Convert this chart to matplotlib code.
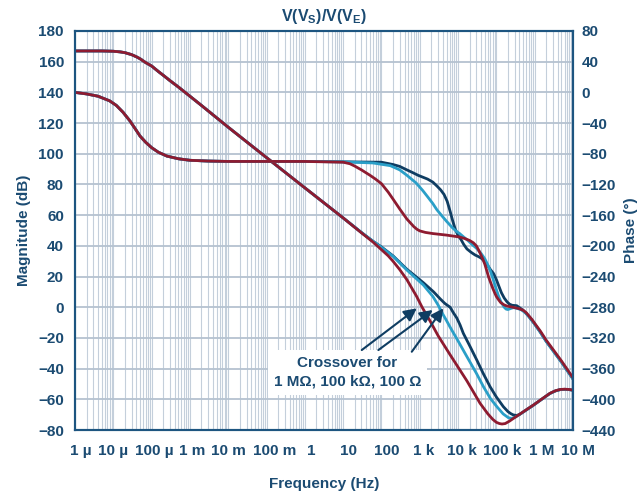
import numpy as np
import matplotlib
matplotlib.use("Agg")
import matplotlib.pyplot as plt
from matplotlib.ticker import LogLocator, NullFormatter
from matplotlib.transforms import ScaledTranslation

plt.rcParams['font.family'] = ['Liberation Sans', 'DejaVu Sans']
plt.rcParams['font.weight'] = 'bold'
plt.rcParams['mathtext.fontset'] = 'custom'
plt.rcParams['mathtext.rm'] = 'Liberation Sans:bold'
plt.rcParams['mathtext.it'] = 'Liberation Sans:bold'
plt.rcParams['mathtext.bf'] = 'Liberation Sans:bold'

azul = '#1b4b72'
marco = '#1d5580'
rojo = '#8e1b30'
marino = '#0f3d62'
cian = '#2a9fc8'
rejilla = '#c4cfdb'

# parte comun en baja frecuencia
f_mag_bajo = [1e-6, 5e-6, 1e-5, 1.5e-5, 2e-5, 3e-5, 4e-5, 5e-5, 7e-5, 1e-4, 1.5e-4, 2e-4,
              3e-4, 5e-4, 1e-3, 2e-3, 1e-2, 0.1, 1, 10]
mag_bajo = [167.0, 167.0, 166.8, 166.4, 165.9, 164.6, 163.2, 161.9, 159.4, 157.2, 153.6, 151.2,
            147.7, 143.5, 137.5, 131.5, 117.3, 97.5, 77.8, 58.2]

f_fase_bajo = [1e-6, 2e-6, 4e-6, 8e-6, 1.2e-5, 1.8e-5, 2.7e-5, 3.8e-5, 5e-5, 7e-5, 1e-4,
               1.5e-4, 2.5e-4, 5e-4, 1e-3, 3e-3, 1e-2, 1]
fase_bajo = [0, -2, -5, -11, -17, -26, -37, -48, -57, -65, -72, -78, -83, -86.5, -88.5,
             -89.5, -90, -90]

# magnitud, cada curva desde 30 Hz
f_mag_rojo = [30, 60, 100, 150, 200, 300, 460, 830, 1.15e3, 1.86e3, 3e3, 6.2e3, 1.7e4, 3.75e4,
              6e4, 8e4, 1e5, 1.2e5, 1.4e5, 1.7e5, 2.2e5, 2.8e5, 5e5, 9.3e5, 1.6e6, 2.5e6,
              3.5e6, 4.6e6, 6e6, 8e6, 1e7]
mag_rojo = [48.5, 42.5, 37.5, 33.5, 30.0, 24.5, 18.0, 7.0, 0.0, -9.0, -18.5, -31.0, -48.0, -62.6,
            -69.5, -73.0, -75.0, -75.8, -76.1, -75.8, -74.2, -72.4, -68.2, -63.7, -59.5, -56.1,
            -54.4, -53.6, -53.4, -53.6, -54.0]

f_mag_cian = [30, 60, 100, 205, 458, 1.24e3, 2.2e3, 3e3, 4e3, 5.07e3, 6.2e3, 1e4, 1.7e4,
              3e4, 4.6e4, 7e4, 1.03e5, 1.5e5, 2.06e5, 2.5e5, 3.2e5, 5e5, 9.3e5, 1.6e6, 2.5e6,
              3.5e6, 4.6e6, 6e6, 8e6, 1e7]
mag_cian = [48.7, 43.0, 39.0, 33.0, 24.3, 14.5, 7.0, 1.5, -4.5, -9.0, -13.0, -22.0, -32.2,
            -43.0, -51.8, -59.5, -64.8, -69.5, -72.0, -72.4, -71.5, -68.3, -63.8, -59.6, -56.2,
            -54.5, -53.7, -53.5, -53.7, -54.1]

f_mag_marino = [30, 60, 100, 200, 458, 1.24e3, 2.3e3, 3.4e3, 4.5e3, 5.3e3, 6.2e3, 7.5e3, 9.25e3,
                1.13e4, 1.37e4, 2e4, 3.08e4, 4.5e4, 6.85e4, 1e5, 1.52e5, 2e5, 2.4e5, 2.78e5,
                3.4e5, 4e5, 5e5, 9.3e5, 1.6e6, 2.5e6, 3.5e6, 4.6e6, 6e6, 8e6, 1e7]
mag_marino = [48.7, 43.0, 39.3, 33.5, 24.8, 16.0, 10.0, 5.5, 2.5, 1.2, 0.0, -3.5, -7.0,
              -11.6, -17.0, -25.0, -34.4, -43.0, -51.8, -58.5, -64.8, -68.0, -69.4, -70.2,
              -70.5, -69.9, -68.3, -63.8, -59.6, -56.2, -54.5, -53.7, -53.5, -53.7, -54.1]

# fase, cada curva desde 10 Hz
f_fase_rojo = [10, 15, 20, 30, 50, 70, 100, 150, 200, 300, 460, 700, 850, 1e3, 1.4e3, 2.2e3,
               5e3, 1.1e4, 1.5e4, 2e4, 2.5e4, 3e4, 3.4e4, 3.8e4, 4.4e4, 5e4, 6.3e4, 8e4, 9e4,
               1e5, 1.15e5, 1.3e5, 1.6e5, 1.9e5, 3e5, 4e5, 5e5, 6e5, 7e5, 8.5e5, 1e6, 1.4e6,
               2e6, 5e6, 1e7]
fase_rojo = [-91, -93, -96, -101, -108, -113, -119, -130, -139, -152, -165, -175, -178.5,
             -180.5, -182.5, -184, -186, -188.5, -190.5, -193, -196, -200, -205, -210, -217,
             -224, -241, -255, -261, -266, -270.5, -274, -277, -278.5, -280.5, -282, -284,
             -287, -291, -296, -301, -311, -323, -350, -372]

f_fase_cian = [10, 60, 170, 300, 460, 800, 1.2e3, 1.6e3, 2.2e3, 2.8e3, 3.8e3, 5e3, 7e3, 9e3,
               1.1e4, 1.4e4, 1.8e4, 2.3e4, 3e4, 4e4, 5e4, 6e4, 7e4, 8e4, 9e4, 1e5, 1.15e5,
               1.3e5, 1.6e5, 1.8e5, 2e5, 2.4e5, 2.8e5, 3.5e5, 4.5e5, 6e5, 8.5e5, 1e6, 1.4e6,
               2e6, 5e6, 1e7]
fase_cian = [-90.5, -92, -95.5, -101, -108, -118, -128, -136, -145, -153, -161, -168, -176,
             -181, -184, -188.5, -193, -198, -203, -210, -217, -225, -233, -241.5, -250, -257,
             -266, -272.5, -280, -282.5, -283, -281.5, -280.5, -281.5, -283.5, -288, -297,
             -302, -312.5, -324.5, -351.5, -373.5]

f_fase_marino = [10, 100, 200, 300, 460, 650, 900, 1.2e3, 1.6e3, 2.2e3, 2.8e3, 3.5e3, 4.3e3,
                 5.2e3, 6.2e3, 7.2e3, 8.4e3, 1e4, 1.2e4, 1.4e4, 1.7e4, 2.2e4, 2.8e4, 3.4e4,
                 4e4, 5e4, 6e4, 7e4, 8.4e4, 1e5, 1.15e5, 1.35e5, 1.6e5, 1.9e5, 2.2e5, 2.6e5,
                 3.4e5, 5e5, 7e5, 1e6, 1.4e6, 2e6, 5e6, 1e7]
fase_marino = [-90.5, -91, -94, -96.5, -101, -104.5, -108, -110.5, -113, -117, -122, -127,
               -133, -142, -155, -167, -178, -186.5, -192, -198, -204, -208.5, -212, -214,
               -216, -220.5, -226, -231, -236, -244, -252, -261, -268, -273, -276, -277.5,
               -278, -284, -292, -302, -312.5, -324.5, -351.5, -373.5]

decadas = [1e-6, 1e-5, 1e-4, 1e-3, 1e-2, 1e-1, 1, 10, 100, 1e3, 1e4, 1e5, 1e6, 1e7]
etiquetas_x = ['1 µ', '10 µ', '100 µ', '1 m', '10 m', '100 m', '1', '10', '100',
               '1 k', '10 k', '100 k', '1 M', '10 M']

fig = plt.figure(figsize=(6.44, 4.94), dpi=100)
fig.subplots_adjust(left=75/644, right=573/644, top=1-31/494, bottom=1-430/494)
ax = fig.add_subplot(111)
ax2 = ax.twinx()

ax.set_xscale('log')
ax.set_xlim(1e-6, 1e7)
ax.set_ylim(-80, 180)
ax2.set_ylim(-440, 80)

ax.set_xticks(decadas)
ax.set_xticklabels(etiquetas_x)
ax.xaxis.set_minor_locator(LogLocator(base=10, subs=np.arange(2, 10), numticks=100))
ax.xaxis.set_minor_formatter(NullFormatter())
ax.set_yticks(np.arange(-80, 181, 20))
ax2.set_yticks(np.arange(-440, 81, 40))

ax.grid(which='both', axis='x', color=rejilla, lw=0.8)
ax.grid(which='major', axis='y', color='#b5c2d0', lw=1.3)
ax.set_axisbelow(True)

# magnitud
for f, m, c in [(f_mag_marino, mag_marino, marino), (f_mag_cian, mag_cian, cian),
                (f_mag_rojo, mag_rojo, rojo)]:
    ax.plot(f_mag_bajo + f, mag_bajo + m, color=c, lw=2.0, solid_joinstyle='round',
            solid_capstyle='round')

# fase
for f, p, c in [(f_fase_marino, fase_marino, marino), (f_fase_cian, fase_cian, cian),
                (f_fase_rojo, fase_rojo, rojo)]:
    ax2.plot(f_fase_bajo + f, fase_bajo + p, color=c, lw=2.0, solid_joinstyle='round',
             solid_capstyle='round')

for a in (ax, ax2):
    for s in a.spines.values():
        s.set_color(marco)
        s.set_linewidth(1.5)

ax.tick_params(axis='both', which='both', length=0, colors=azul, labelsize=11)
ax.tick_params(axis='x', pad=10)
ax.tick_params(axis='y', pad=8)
ax2.tick_params(axis='y', length=0, colors=azul, labelsize=11, pad=6)

# las etiquetas del original van algo corridas a la derecha
corrimiento = [6, 0, 3, 2, 0, 8, 6, 5, 5, 4, 4, 6, 7, 5]
for tick, dx in zip(ax.xaxis.get_major_ticks(), corrimiento):
    tick.label1.set_transform(tick.label1.get_transform() +
                              ScaledTranslation(dx / 100, 0, fig.dpi_scale_trans))

ax.set_title(r'V(V$_S$)/V(V$_E$)', color=azul, fontsize=11.5, fontweight='bold', pad=7)
ax.set_xlabel('Frequency (Hz)', color=azul, fontsize=11, fontweight='bold', labelpad=14)
ax.set_ylabel('Magnitude (dB)', color=azul, fontsize=11, fontweight='bold', labelpad=5)
ax2.set_ylabel('Phase (°)', color=azul, fontsize=11, fontweight='bold', labelpad=6)

ax.text(13, -42.5, 'Crossover for\n1 MΩ, 100 kΩ, 100 Ω', ha='center', va='center',
        color=azul, fontsize=11, fontweight='bold', linespacing=1.4,
        bbox=dict(boxstyle='square,pad=0.4', fc='white', ec='none'), zorder=5)

flecha = dict(arrowstyle='-|>', color=marino, lw=1.5, mutation_scale=19, shrinkA=0, shrinkB=0)
ax.annotate('', xy=(836, -0.7), xytext=(30.6, -27.9), arrowprops=flecha, zorder=6)
ax.annotate('', xy=(2180, -1.8), xytext=(83, -27.9), arrowprops=flecha, zorder=6)
ax.annotate('', xy=(4130, -0.7), xytext=(618, -29), arrowprops=flecha, zorder=6)

plt.savefig('out.png', dpi=100)
